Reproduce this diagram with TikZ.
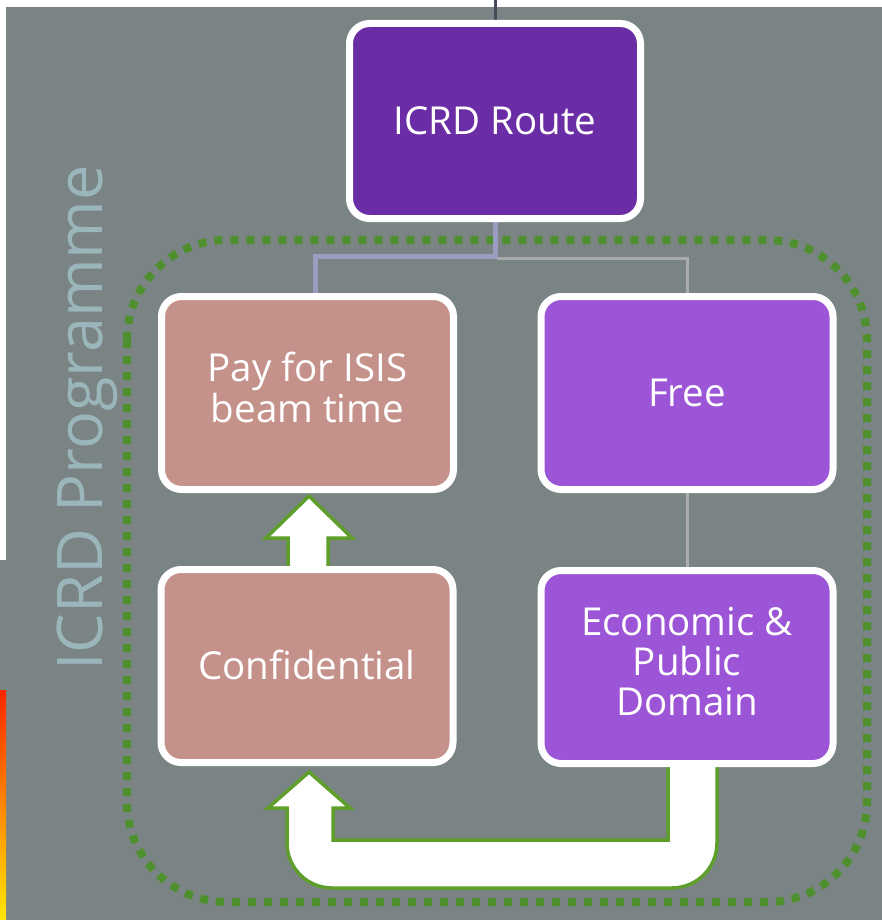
\documentclass[tikz,border=0pt]{standalone}
\usepackage{fontspec}
\setmainfont{Open Sans}
\usetikzlibrary{calc}
\pgfdeclarelayer{back}
\pgfdeclarelayer{bg}
\pgfsetlayers{back,bg,main}
\definecolor{bggray}{HTML}{7B8485}
\definecolor{deepviolet}{HTML}{6B2DA5}
\definecolor{lightviolet}{HTML}{9B55D6}
\definecolor{rose}{HTML}{C5928B}
\definecolor{framegreen}{HTML}{4E8F2E}
\definecolor{arrowgreen}{HTML}{5E9E2A}
\definecolor{labelblue}{HTML}{9AB6BB}
\definecolor{stemcol}{HTML}{474B58}
\definecolor{lavender}{HTML}{9C9CC0}
\definecolor{palegray}{HTML}{A9ABAE}
\tikzset{
  box/.style={draw=white, line width=7pt, rounded corners=20pt,
    minimum width=292pt, minimum height=193pt, text=white, align=center,
    font=\fontsize{38.5}{38.5}\selectfont, inner sep=0pt},
  stemline/.style={draw=stemcol, line width=3pt},
  lbranch/.style={draw=lavender, line width=5pt},
  rbranch/.style={draw=palegray, line width=3pt},
  groupframe/.style={draw=framegreen, line width=8pt, dash pattern=on 8pt off 8pt, rounded corners=100pt},
  blockarrow/.style={fill=white, draw=arrowgreen, line width=3.5pt, line join=miter},
}
\begin{document}
\begin{tikzpicture}[x=1pt,y=-1pt]
\useasboundingbox (0,0) rectangle (882,920);
% background
\begin{pgfonlayer}{back}
  \fill[white] (0,0) rectangle (882,920);
  \fill[bggray] (6,7) rectangle (882,920);
  \fill[bggray] (0,560) rectangle (6,690);
  \shade[top color=red!70!orange, bottom color=yellow!80!orange] (0,690) rectangle (6,920);
\end{pgfonlayer}

% boxes
\node[box, fill=deepviolet, minimum width=291pt, minimum height=195pt] (icrd) at (495,121) {ICRD Route};
\node[box, fill=rose] (pay) at (307.5,393) {\raisebox{4pt}{\begin{tabular}{@{}c@{}}Pay for ISIS\\beam time\end{tabular}}};
\node[box, fill=lightviolet] (free) at (687,393) {Free};
\node[box, fill=rose] (conf) at (307,666) {\raisebox{3pt}{Confidential}};
\node[box, fill=lightviolet] (econ) at (687,667) {\raisebox{6pt}{\begin{tabular}{@{}c@{}}Economic \&\\Public\\Domain\end{tabular}}};

% group label
\node[rotate=90, text=labelblue, font=\fontsize{63}{63}\selectfont, inner sep=0pt] (prog) at (87,418) {ICRD Programme};

\coordinate (topin) at (495,0);

\begin{pgfonlayer}{bg}
  % group frame
  \draw[groupframe] (127,240) rectangle (867,902);
  % connectors
  \draw[stemline] (topin) -- (icrd.north);
  \draw[lbranch] (icrd.south) -- ++(0,34) -| ([xshift=7.5pt]pay.north);
  \draw[rbranch] (icrd.south) ++(2,36) -| (free.north);
  \draw[rbranch] (free.south) -- (econ.north);
  % up block arrow Confidential -> Pay
  \begin{scope}[shift={(conf.north)}]
    \draw[blockarrow] (-19,6) -- (-19,-28) -- (-41,-28) -- (2,-70) -- (45,-28) -- (21,-28) -- (21,6);
    \fill[white] (-17,8) rectangle (19,-28);
  \end{scope}
  % U-turn block arrow Economic -> Confidential
  \begin{scope}[shift={(econ.south)}]
    \draw[blockarrow] (-19,-6) -- (-19,73) -- (-354,73) -- (-354,41) -- (-337,41) -- (-378,5) -- (-419,41) -- (-400,41)
      [rounded corners=45pt] -- (-400,121) -- (30,121) [sharp corners] -- (30,-6);
  \end{scope}
\end{pgfonlayer}
\end{tikzpicture}
\end{document}
